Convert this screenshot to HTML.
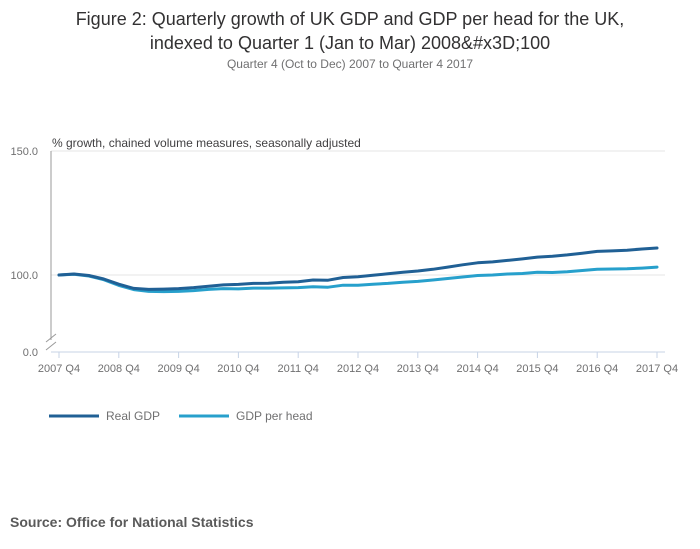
<!DOCTYPE html>
<html><head><meta charset="utf-8"><style>
body{margin:0;background:#fff;font-family:"Liberation Sans",sans-serif;}
#wrap{position:relative;width:700px;height:549px;overflow:hidden;}
.t{position:absolute;white-space:nowrap;color:#414042;}
</style></head><body>
<div id="wrap">
<div class="t" style="left:0;width:700px;text-align:center;top:7px;font-size:18px;line-height:24px;color:#323132">Figure 2: Quarterly growth of UK GDP and GDP per head for the UK,<br>indexed to Quarter 1 (Jan to Mar) 2008&amp;#x3D;100</div>
<div class="t" style="left:0;width:700px;text-align:center;top:57px;font-size:12px;color:#707071">Quarter 4 (Oct to Dec) 2007 to Quarter 4 2017</div>
<svg id="c" width="700" height="549" style="position:absolute;left:0;top:0"></svg>
<div class="t" style="left:10px;top:514px;font-size:14px;font-weight:bold;color:#5a5a5a">Source: Office for National Statistics</div>
</div>
<script>
const categories=["2007 Q4","2008 Q4","2009 Q4","2010 Q4","2011 Q4","2012 Q4","2013 Q4","2014 Q4","2015 Q4","2016 Q4","2017 Q4"];
const yTicks=[0,100,150];
const yTickLabels=["0.0","100.0","150.0"];
const realGDP=[100,100.4,99.8,98.4,96.3,94.6,94.2,94.3,94.5,94.9,95.5,96.0,96.2,96.6,96.7,97.1,97.3,98.0,97.9,99.0,99.3,99.9,100.5,101.1,101.6,102.3,103.2,104.1,104.9,105.3,105.9,106.5,107.2,107.6,108.1,108.8,109.5,109.7,110.0,110.5,110.9];
const gdpPerHead=[100,100.3,99.6,98.1,95.8,94.1,93.4,93.3,93.4,93.7,94.2,94.5,94.4,94.7,94.7,94.8,94.9,95.3,95.1,95.9,95.9,96.3,96.6,97.1,97.4,98.0,98.6,99.2,99.8,100.0,100.4,100.6,101.1,101.0,101.3,101.8,102.3,102.4,102.5,102.8,103.2];
const NS="http://www.w3.org/2000/svg",svg=document.getElementById('c');
function x(i){return 59+i*(657-59)/40;}
function y(v){return v<=0?352:275-(v-100)*124/50;}
function mk(t,a,p){const e=document.createElementNS(NS,t);for(const k in a)e.setAttribute(k,a[k]);(p||svg).appendChild(e);return e;}
yTicks.forEach((v,i)=>{
 const g=mk('line',{x1:51,x2:665,y1:y(v),y2:y(v),stroke:v===0?'#c7d3e6':'#e6e6e6','stroke-width':1});
 
 
 const t=mk('text',{x:38,y:y(v)+4,'text-anchor':'end','font-size':11,fill:'#707071','font-family':'Liberation Sans'});
 t.textContent=yTickLabels[i];
 
 
});
const ax=mk('line',{x1:51,x2:51,y1:151,y2:340,stroke:'#999','stroke-width':1});


const br=mk('path',{d:'M46 342 L56 334 M46 350 L56 342',stroke:'#999',fill:'none'});


const yt=mk('text',{x:52,y:147,'font-size':12,fill:'#414042','font-family':'Liberation Sans'});
yt.textContent='% growth, chained volume measures, seasonally adjusted';


categories.forEach((c,i)=>{
 const xx=x(i*4);
 const tk=mk('line',{x1:xx,x2:xx,y1:352,y2:358,stroke:'#c7d3e6'});
 
 
 const t=mk('text',{x:xx,y:372,'text-anchor':'middle','font-size':11,fill:'#707071','font-family':'Liberation Sans'});
 t.textContent=c;
 
 
});
function line(d,col,name){
 const p=mk('path',{d:d.map((v,i)=>(i?'L':'M')+x(i).toFixed(1)+' '+y(v).toFixed(1)).join(' '),stroke:col,'stroke-width':3,fill:'none','stroke-linejoin':'round','stroke-linecap':'round'});
 
 
}
line(gdpPerHead,'#27a0cc','gdp-per-head-line');
line(realGDP,'#206095','real-gdp-line');
[['Real GDP','#206095',49],['GDP per head','#27a0cc',179]].forEach(([n,c,lx])=>{
 const l=mk('line',{x1:lx,x2:lx+50,y1:416,y2:416,stroke:c,'stroke-width':3});
 
 
 const t=mk('text',{x:lx+57,y:420,'font-size':12,fill:'#707071','font-family':'Liberation Sans'});
 t.textContent=n;
 
 
});
</script>
</body></html>
